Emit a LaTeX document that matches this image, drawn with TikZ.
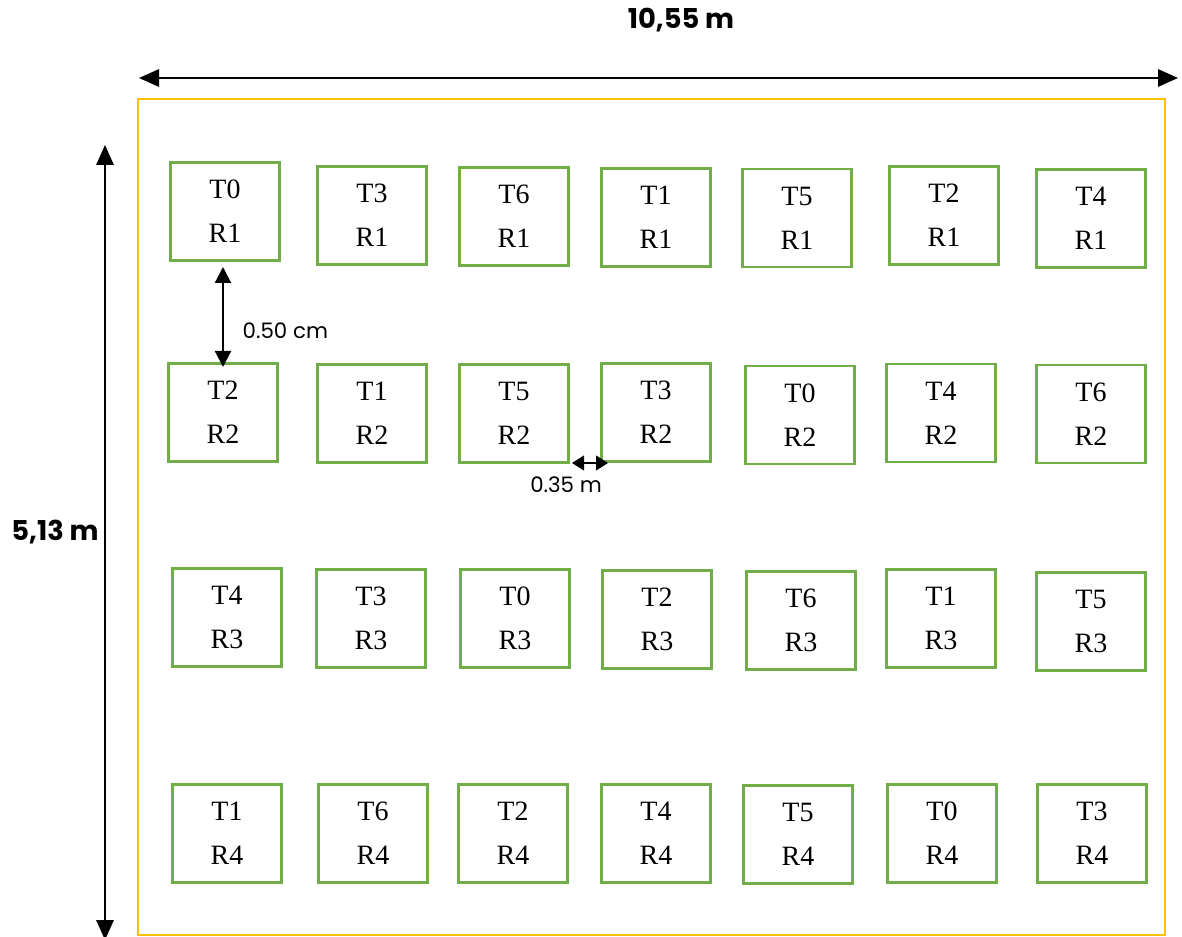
\documentclass[tikz,border=0pt]{standalone}
\usepackage{fontspec}
\setmainfont{Liberation Serif}
\newfontfamily\dimfont{Poppins}
\usetikzlibrary{arrows.meta}
\definecolor{boxgreen}{HTML}{70AD47}
\definecolor{fieldyellow}{HTML}{FFC000}
\tikzset{
  plot/.style={draw=boxgreen, line width=1.9pt, minimum width=82pt, minimum height=73.5pt, inner sep=0pt, align=center, font=\fontsize{21}{23}\selectfont},
  field/.style={draw=fieldyellow, line width=2.1pt},
  bigdim/.style={line width=1.6pt, {Triangle[length=15pt,width=13pt]}-{Triangle[length=15pt,width=13pt]}},
  smalldim/.style={line width=1.6pt, {Triangle[length=12pt,width=12pt]}-{Triangle[length=12pt,width=12pt]}},
  tinydim/.style={line width=1.6pt, {Triangle[length=9pt,width=11pt]}-{Triangle[length=9pt,width=11pt]}},
  boldlbl/.style={font=\dimfont\bfseries\fontsize{20.5}{24}\selectfont},
  lbl/.style={font=\dimfont\fontsize{16}{19}\selectfont}
}
\newcommand{\plotxt}[2]{#1\\[10pt]#2}
\begin{document}
\begin{tikzpicture}[x=0.75pt,y=-0.75pt]
\useasboundingbox (0,0) rectangle (1182,937);
% field
\node[field, minimum width=770.25pt, minimum height=627pt, inner sep=0pt] (field) at (651.5,517) {};
% row 1
\node[plot] (b11) at (225,211.5) {\plotxt{T0}{R1}};
\node[plot] (b12) at (372,215.5) {\plotxt{T3}{R1}};
\node[plot] (b13) at (514,216.5) {\plotxt{T6}{R1}};
\node[plot] (b14) at (656,217.5) {\plotxt{T1}{R1}};
\node[plot] (b15) at (797,218) {\plotxt{T5}{R1}};
\node[plot] (b16) at (944,215.5) {\plotxt{T2}{R1}};
\node[plot] (b17) at (1091,218.5) {\plotxt{T4}{R1}};
% row 2
\node[plot] (b21) at (223,412.5) {\plotxt{T2}{R2}};
\node[plot] (b22) at (372,413.5) {\plotxt{T1}{R2}};
\node[plot] (b23) at (514,413.5) {\plotxt{T5}{R2}};
\node[plot] (b24) at (656,412.5) {\plotxt{T3}{R2}};
\node[plot] (b25) at (800,415) {\plotxt{T0}{R2}};
\node[plot] (b26) at (941,413) {\plotxt{T4}{R2}};
\node[plot] (b27) at (1091,414) {\plotxt{T6}{R2}};
% row 3
\node[plot] (b31) at (227,617.5) {\plotxt{T4}{R3}};
\node[plot] (b32) at (371,618.5) {\plotxt{T3}{R3}};
\node[plot] (b33) at (515,618.5) {\plotxt{T0}{R3}};
\node[plot] (b34) at (657,619.5) {\plotxt{T2}{R3}};
\node[plot] (b35) at (801,620.5) {\plotxt{T6}{R3}};
\node[plot] (b36) at (941,618.5) {\plotxt{T1}{R3}};
\node[plot] (b37) at (1091,621.5) {\plotxt{T5}{R3}};
% row 4
\node[plot] (b41) at (227,833.5) {\plotxt{T1}{R4}};
\node[plot] (b42) at (373,833.5) {\plotxt{T6}{R4}};
\node[plot] (b43) at (513,833.5) {\plotxt{T2}{R4}};
\node[plot] (b44) at (656,833.5) {\plotxt{T4}{R4}};
\node[plot] (b45) at (798,834.5) {\plotxt{T5}{R4}};
\node[plot] (b46) at (942,833.5) {\plotxt{T0}{R4}};
\node[plot] (b47) at (1092,833.5) {\plotxt{T3}{R4}};
% overall dimensions
\coordinate (wl) at (139,78);
\coordinate (wr) at (1178,78);
\draw[bigdim] (wl) -- (wr);
\node[boldlbl] (wlbl) at (681,20) {10,55 m};
\coordinate (ht) at (105,145);
\coordinate (hb) at (105,940);
\draw[bigdim] (ht) -- (hb);
\node[boldlbl] (hlbl) at (55,532) {5,13 m};
% spacing dimensions
\coordinate (vt) at (223,267);
\coordinate (vb) at (223,367);
\draw[smalldim] (vt) -- (vb);
\node[lbl, anchor=west] (vlbl) at (238,331) {0.50 cm};
\coordinate (hl) at (572,463);
\coordinate (hr) at (608,463);
\draw[tinydim] (hl) -- (hr);
\node[lbl] (hlbl2) at (566,485) {0.35 m};
\end{tikzpicture}
\end{document}
